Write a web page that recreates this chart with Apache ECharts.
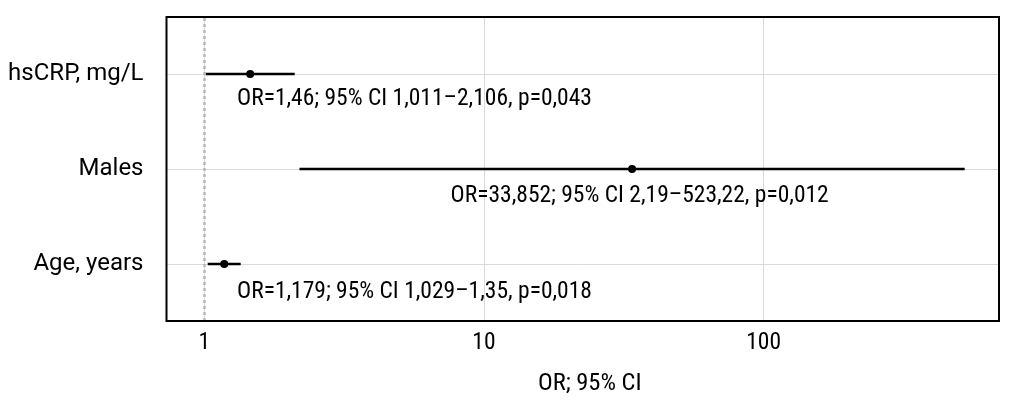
<!DOCTYPE html>
<html>
<head>
<meta charset="utf-8">
<script src="https://cdn.jsdelivr.net/npm/echarts@6/dist/echarts.min.js"></script>
<style>
html,body{margin:0;padding:0;background:#fff;}
#chart{width:1021px;height:407px;}
</style>
</head>
<body>
<div id="chart"></div>
<script>
// ---- data ----
var categories = ['Age, years', 'Males', 'hsCRP, mg/L'];   // bottom -> top
var orValues   = [1.179, 33.852, 1.46];
var ciLow      = [1.029, 2.19, 1.011];
var ciHigh     = [1.35, 523.22, 2.106];
var pValues    = [0.018, 0.012, 0.043];
var labelX     = [1.31, 7.6, 1.31];        // where each annotation starts (OR units)
var labelY     = [0.701, 1.719, 2.737];    // annotation row position (category units)
var xTickValues = [1, 10, 100];
var refLine = 1;

var FONT = '"Roboto Condensed","Liberation Sans Narrow",sans-serif';
var FONT_Y = 'Roboto,"Noto Sans",sans-serif';
var FS = 23.5;

function fmt(v){ return String(v).replace('.', ','); }
var labelTexts = categories.map(function(c,i){
  return 'OR=' + fmt(orValues[i]) + '; 95% CI ' + fmt(ciLow[i]) + '–' + fmt(ciHigh[i]) + ', p=' + fmt(pValues[i]);
});

var series = [];
categories.forEach(function(c,i){
  series.push({
    type:'line', silent:true, symbol:'none', z:3,
    lineStyle:{color:'#000', width:2.5},
    data:[[ciLow[i], i+1],[ciHigh[i], i+1]],
    markLine: i===0 ? {
      silent:true, symbol:'none', label:{show:false},
      lineStyle:{color:'#b8b8b8', type:[3,3], width:2.5},
      data:[{xAxis: refLine}]
    } : undefined
  });
});
series.push({
  type:'scatter', silent:true, z:4,
  symbol:'circle', symbolSize:8,
  itemStyle:{color:'#000', opacity:1},
  data: orValues.map(function(v,i){ return [v, i+1]; })
});
series.push({
  type:'scatter', silent:true, z:5,
  symbolSize:0,
  itemStyle:{opacity:1},
  data: labelX.map(function(v,i){ return [v, labelY[i]]; }),
  label:{
    show:true, position:'right', distance:0,
    formatter:function(p){ return labelTexts[p.dataIndex]; },
    fontFamily:FONT, fontSize:FS, color:'#000'
  }
});

var chart = echarts.init(document.getElementById('chart'), null, {renderer:'canvas'});
chart.setOption({
  animation:false,
  backgroundColor:'#fff',
  grid:{left:166.5, top:17, width:832.5, height:304, show:true, borderColor:'#000', borderWidth:2, backgroundColor:'transparent', z:10},
  xAxis:{
    type:'log', logBase:10, min:0.733, max:694,
    axisLine:{show:false}, axisTick:{show:false},
    axisLabel:{
      showMinLabel:false, showMaxLabel:false,
      fontFamily:FONT, fontSize:FS, color:'#000', margin:10,
      formatter:function(v){ return xTickValues.indexOf(Math.round(v))>=0 ? String(Math.round(v)) : ''; }
    },
    splitLine:{show:true, lineStyle:{color:'#d9d9d9', width:1}},
    minorSplitLine:{show:false},
    name:'OR; 95% CI', nameLocation:'middle', nameGap:50,
    nameTextStyle:{fontFamily:FONT, fontSize:24.5, color:'#000', padding:[0,0,0,14]}
  },
  yAxis:{
    type:'value', min:0.4, max:3.6,
    axisLine:{show:false},
    axisTick:{show:false, customValues:[1,2,3]},
    axisLabel:{
      customValues:[1,2,3],
      fontFamily:FONT_Y, fontSize:24, color:'#000', margin:23,
      formatter:function(v){ return categories[Math.round(v)-1] || ''; }
    },
    splitLine:{show:true, lineStyle:{color:'#d9d9d9', width:1}}
  },
  series:series
});
</script>
</body>
</html>
